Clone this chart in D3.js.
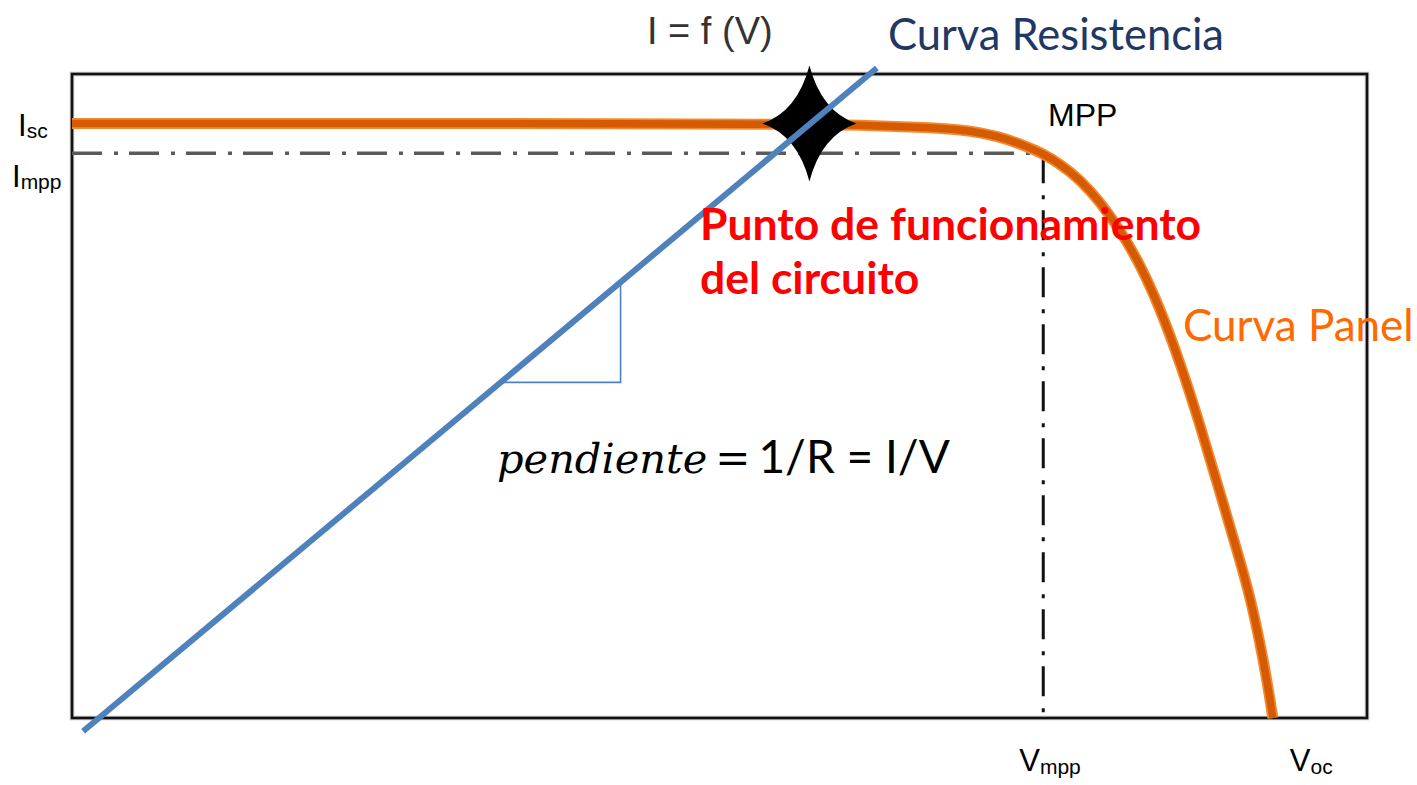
<!DOCTYPE html>
<html>
<head>
<meta charset="utf-8">
<script src="https://cdn.jsdelivr.net/npm/d3@7"></script>
<style>
  html, body { margin: 0; padding: 0; background: #fff; }
  svg { display: block; }
</style>
</head>
<body>
<svg id="chart" width="1417" height="785"></svg>
<script>
// Axis extents (V in volts, I in amperes)
const vDomain = [0, 43.2];
const iDomain = [0, 9.75];

// Panel I-V curve
const panelV = [0, 20.95, 24.29, 26.29, 28.29, 29.62, 30.96, 31.96, 32.36, 32.96, 33.63, 34.29, 34.96, 35.63, 36.29, 36.96, 37.63, 38.29, 38.96, 39.30, 39.63, 39.86, 40.06];
const panelI = [9.0, 9.0, 8.99, 8.975, 8.945, 8.915, 8.81, 8.63, 8.55, 8.39, 8.15, 7.82, 7.39, 6.87, 6.21, 5.39, 4.44, 3.42, 2.39, 1.83, 1.14, 0.575, 0];

// Load (resistance) line end points
const resistanceV = [0.37, 26.85];
const resistanceI = [-0.2, 9.84];

// Characteristic points
const isc = 9.0, impp = 8.55, vmpp = 32.4, voc = 40.06;
const operatingPoint = { v: 24.6, i: 9.0 };
// Voltage span of the slope triangle drawn on the load line
const slopeSpanV = [14.3, 18.3];

// Tick labels
const yTickLabels = [
  { main: "I", sub: "sc", value: isc, dy: 12 },
  { main: "I", sub: "mpp", value: impp, dy: 34 }
];
const xTickLabels = [
  { main: "V", sub: "mpp", value: vmpp, dx: -24 },
  { main: "V", sub: "oc", value: voc, dx: 17 }
];

const margin = { left: 72, top: 74, right: 50, bottom: 67 };
const W = 1417, H = 785;
const innerW = W - margin.left - margin.right;
const innerH = H - margin.top - margin.bottom;

const svg = d3.select("#chart");
const g = svg.append("g").attr("transform", `translate(${margin.left},${margin.top})`);

const x = d3.scaleLinear().domain(vDomain).range([0, innerW]);
const y = d3.scaleLinear().domain(iDomain).range([innerH, 0]);

// Frame
g.append("rect")
  .attr("x", 0).attr("y", 0).attr("width", innerW).attr("height", innerH)
  .attr("fill", "none").attr("stroke", "#bbb").attr("stroke-width", 4.5);
g.append("rect")
  .attr("x", 0).attr("y", 0).attr("width", innerW).attr("height", innerH)
  .attr("fill", "none").attr("stroke", "#111").attr("stroke-width", 2.5);

// MPP guide lines (dash-dot)
const dashDot = "30 12 4 11";
g.append("line")
  .attr("x1", x(0)).attr("x2", x(vmpp))
  .attr("y1", y(impp)).attr("y2", y(impp))
  .attr("stroke", "#5a5a5a").attr("stroke-width", 3.5)
  .attr("stroke-dasharray", dashDot);
g.append("line")
  .attr("x1", x(vmpp)).attr("x2", x(vmpp))
  .attr("y1", y(impp)).attr("y2", y(0))
  .attr("stroke", "#111").attr("stroke-width", 3)
  .attr("stroke-dasharray", dashDot);

// Panel curve
const panelData = panelV.map((v, k) => ({ v, i: panelI[k] }));
const panelLine = d3.line().x(d => x(d.v)).y(d => y(d.i)).curve(d3.curveBasis);
g.append("path").datum(panelData)
  .attr("d", panelLine).attr("fill", "none")
  .attr("stroke", "#f28a30").attr("stroke-width", 11).attr("stroke-linejoin", "round");
g.append("path").datum(panelData)
  .attr("d", panelLine).attr("fill", "none")
  .attr("stroke", "#d65a00").attr("stroke-width", 7.5).attr("stroke-linejoin", "round");

// Load line
const resData = resistanceV.map((v, k) => ({ v, i: resistanceI[k] }));
const straight = d3.line().x(d => x(d.v)).y(d => y(d.i));

// Slope triangle on the load line
const slope = (resistanceI[1] - resistanceI[0]) / (resistanceV[1] - resistanceV[0]);
const lineI = v => resistanceI[0] + slope * (v - resistanceV[0]);
const tri = [
  { v: slopeSpanV[0], i: lineI(slopeSpanV[0]) },
  { v: slopeSpanV[1], i: lineI(slopeSpanV[0]) },
  { v: slopeSpanV[1], i: lineI(slopeSpanV[1]) }
];
g.append("path").datum(tri)
  .attr("d", straight).attr("fill", "none")
  .attr("stroke", "#4f81bd").attr("stroke-width", 1.6);

// Operating point marker (four-pointed star)
const cx = x(operatingPoint.v), cy = y(operatingPoint.i);
const sx = 47, sy = 58, c = 12;
g.append("path")
  .attr("transform", `translate(${cx},${cy})`)
  .attr("d", `M0,${-sy} Q${c},${-c} ${sx},0 Q${c},${c} 0,${sy} Q${-c},${c} ${-sx},0 Q${-c},${-c} 0,${-sy} Z`)
  .attr("fill", "#000");

// Load line drawn over the marker
g.append("path").datum(resData)
  .attr("d", straight).attr("fill", "none")
  .attr("stroke", "#4f81bd").attr("stroke-width", 6);

// Axis tick labels
const sans = "'Liberation Sans', Arial, sans-serif";
yTickLabels.forEach(t => {
  const tx = svg.append("text")
    .attr("x", t.sub === "sc" ? 18 : 12)
    .attr("y", margin.top + y(t.value) + t.dy)
    .attr("font-family", sans).attr("font-size", 31).attr("fill", "#000");
  tx.append("tspan").text(t.main);
  tx.append("tspan").attr("font-size", 21).attr("dy", 2).text(t.sub);
});
xTickLabels.forEach(t => {
  const tx = svg.append("text")
    .attr("x", margin.left + x(t.value) + t.dx)
    .attr("y", 771)
    .attr("font-family", sans).attr("font-size", 31).attr("fill", "#000");
  tx.append("tspan").text(t.main);
  tx.append("tspan").attr("font-size", 21).attr("dy", 3).text(t.sub);
});

// Annotations
svg.append("text").attr("x", 647).attr("y", 44)
  .attr("font-family", sans).attr("font-size", 38).attr("fill", "#333")
  .text("I = f (V)");

const calibriLike = "Lato, 'Open Sans', sans-serif";
svg.append("text").attr("x", 888).attr("y", 50)
  .attr("font-family", calibriLike).attr("font-size", 43.5).attr("fill", "#1f3864")
  .text("Curva Resistencia");

svg.append("text").attr("x", 1048).attr("y", 126)
  .attr("font-family", sans).attr("font-size", 32).attr("fill", "#000")
  .text("MPP");

svg.append("text").attr("x", 700).attr("y", 240)
  .attr("font-family", calibriLike).attr("font-weight", "bold").attr("font-size", 44.5).attr("fill", "#ff0000")
  .text("Punto de funcionamiento");
svg.append("text").attr("x", 700).attr("y", 294)
  .attr("font-family", calibriLike).attr("font-weight", "bold").attr("font-size", 44.5).attr("fill", "#ff0000")
  .text("del circuito");

svg.append("text").attr("x", 1183).attr("y", 341)
  .attr("font-family", calibriLike).attr("font-size", 44).attr("fill", "#ff6a00")
  .text("Curva Panel");

const formula = svg.append("text").attr("x", 497).attr("y", 473)
  .attr("font-size", 46).attr("fill", "#000");
formula.append("tspan").attr("font-family", "'DejaVu Serif', serif").attr("font-style", "italic").attr("font-size", 41.5).text("pendiente");
formula.append("tspan").attr("font-family", "'DejaVu Serif', serif").attr("font-size", 42).attr("dx", 8).text("=");
formula.append("tspan").attr("font-family", calibriLike).attr("dx", 8).text("1/R = I/V");
</script>
</body>
</html>
